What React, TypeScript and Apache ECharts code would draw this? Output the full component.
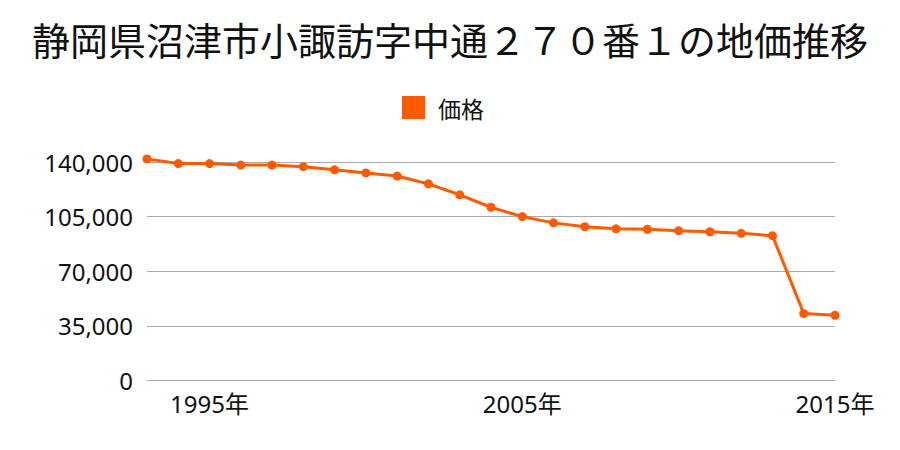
import React, { useEffect, useRef } from "react";
import * as echarts from "echarts";

const years = [
  "1993", "1994", "1995", "1996", "1997", "1998", "1999", "2000", "2001", "2002",
  "2003", "2004", "2005", "2006", "2007", "2008", "2009", "2010", "2011", "2012",
  "2013", "2014", "2015",
];
const prices = [
  142000, 139000, 139000, 138000, 138000, 137000, 135000, 133000, 131000, 126000,
  119000, 111000, 105000, 101000, 98500, 97200, 96900, 96000, 95300, 94300,
  92800, 43000, 41800,
];
const shownYears = ["1995", "2005", "2015"];
const yTicks = [0, 35000, 70000, 105000, 140000];
const titleText = "静岡県沼津市小諏訪字中通２７０番１の地価推移";
const seriesName = "価格";

export default function App() {
  const ref = useRef<HTMLDivElement>(null);
  useEffect(() => {
    if (!ref.current) return;
    document.body.style.margin = "0";
    const chart = echarts.init(ref.current, null, { renderer: "svg" });
    const color = "#ff5a00";
    chart.setOption({
      animation: false,
      title: {
        text: titleText,
        left: "center",
        top: 14,
        textStyle: {
          fontFamily: "'Noto Sans CJK JP'",
          fontSize: 38,
          fontWeight: "normal",
          color: "#111",
        },
      },
      legend: {
        top: 91,
        left: 397,
        itemWidth: 23,
        itemHeight: 23,
        icon: "rect",
        data: [seriesName],
        textStyle: {
          fontFamily: "'Noto Sans CJK JP'",
          fontSize: 23,
          color: "#111",
          padding: [0, 0, 0, 8],
        },
      },
      grid: { left: 147, right: 65, top: 162, bottom: 69.5, containLabel: false },
      xAxis: {
        type: "category",
        data: years,
        boundaryGap: false,
        axisTick: { show: false },
        axisLine: { show: true, lineStyle: { color: "#aaa", width: 1 } },
        axisLabel: {
          interval: (i: number, v: string) => shownYears.includes(v),
          formatter: (v: string) => `${v}年`,
          margin: 11,
          fontFamily: "'Noto Sans', 'Noto Sans CJK JP'",
          fontSize: 24,
          color: "#111",
        },
        splitLine: { show: false },
      },
      yAxis: {
        type: "value",
        min: yTicks[0],
        max: yTicks[yTicks.length - 1],
        interval: yTicks[1] - yTicks[0],
        axisLine: { show: false },
        axisTick: { show: false },
        axisLabel: {
          margin: 14,
          fontFamily: "'Noto Sans', 'Noto Sans CJK JP'",
          fontSize: 24,
          color: "#111",
          formatter: (v: number) => v.toLocaleString("en-US"),
        },
        splitLine: { lineStyle: { color: "#aaa", width: 1 } },
      },
      series: [
        {
          name: seriesName,
          type: "line",
          data: prices,
          clip: false,
          symbol: "circle",
          symbolSize: 9,
          itemStyle: { color },
          lineStyle: { color, width: 3 },
        },
      ],
    });
    return () => chart.dispose();
  }, []);
  return <div ref={ref} style={{ width: 900, height: 450 }} />;
}
